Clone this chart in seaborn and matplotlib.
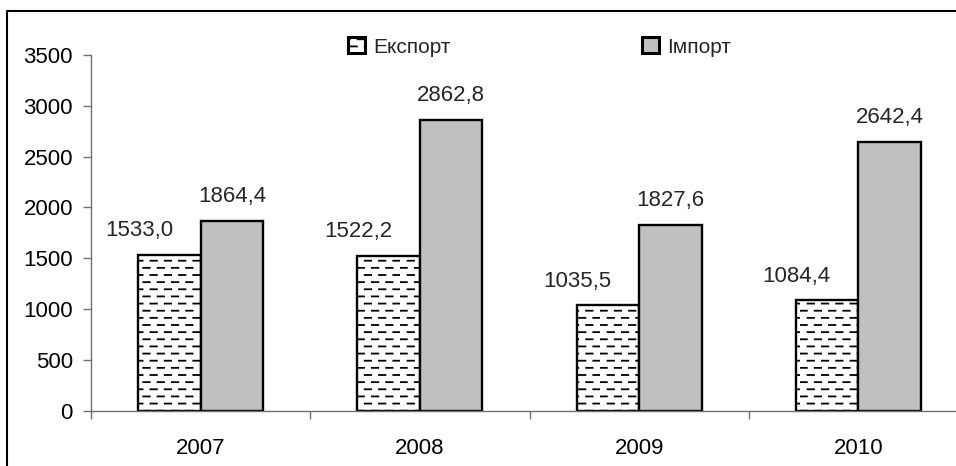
import numpy as np
import pandas as pd
import matplotlib
matplotlib.use("Agg")
import matplotlib.pyplot as plt
from matplotlib import hatch as mhatch
from matplotlib.path import Path
from matplotlib.patches import Patch
from matplotlib.lines import Line2D
import seaborn as sns

# дані
years = ["2007", "2008", "2009", "2010"]
export_vals = [1533.0, 1522.2, 1035.5, 1084.4]
import_vals = [1864.4, 2862.8, 1827.6, 2642.4]
series_names = ["Експорт", "Імпорт"]
y_ticks = [0, 500, 1000, 1500, 2000, 2500, 3000, 3500]


class DashHatch(mhatch.HatchPatternBase):
    """Штрихування короткими горизонтальними рисками в шаховому порядку"""

    def __init__(self, hatch, density):
        n = hatch.count('-')
        self.rows = 14 * n
        self.cols = 7
        self.num_vertices = self.rows * self.cols * 2 if n else 0

    def set_vertices_and_codes(self, vertices, codes):
        step = 1.0 / self.cols
        k = 0
        for r in range(self.rows):
            y = (r + 0.5) / self.rows
            shift = step / 2 if r % 2 else 0.0
            for c in range(self.cols):
                x0 = c * step + shift + 0.03 * step
                vertices[k] = (x0, y)
                vertices[k + 1] = (x0 + 0.45 * step, y)
                codes[k] = Path.MOVETO
                codes[k + 1] = Path.LINETO
                k += 2


# замінюємо стандартне горизонтальне штрихування на пунктирне
mhatch._hatch_types[0] = DashHatch

df = pd.DataFrame({
    "year": years * 2,
    "value": export_vals + import_vals,
    "kind": [series_names[0]] * len(years) + [series_names[1]] * len(years),
})

sns.set_style("ticks")
plt.rcParams['font.family'] = ['Liberation Sans', 'DejaVu Sans']
plt.rcParams['hatch.linewidth'] = 1.3

fig = plt.figure(figsize=(9.56, 4.66), dpi=100)
ax = fig.add_axes([91 / 956, 55.3 / 466, 877 / 956, 355.7 / 466])

colors = ["white", "#c0c0c0"]
sns.barplot(data=df, x="year", y="value", hue="kind", hue_order=series_names,
            palette=colors, edgecolor="black", linewidth=1.7, width=0.57,
            gap=0, saturation=1, legend=False, ax=ax)

for bar in ax.containers[0]:
    bar.set_hatch('-')

# підписи значень
for i, cont in enumerate(ax.containers):
    vals = export_vals if i == 0 else import_vals
    labels = [f"{v:.1f}".replace('.', ',') for v in vals]
    anns = ax.bar_label(cont, labels=labels, padding=10, fontsize=16)
    if i == 0:
        for a in anns:
            a.xyann = (-22, a.xyann[1])

ax.set_ylim(0, 3500)
ax.set_xlim(-0.5, len(years) - 0.5)
ax.set_yticks(y_ticks)
ax.set_xticks(np.arange(len(years) + 1) - 0.5, minor=True)
ax.set_xlabel("")
ax.set_ylabel("")

axis_col = "#707070"
sns.despine(ax=ax)
for s in ["left", "bottom"]:
    ax.spines[s].set_color(axis_col)
    ax.spines[s].set_linewidth(1.0)
ax.tick_params(axis='y', length=6, width=1, color=axis_col, pad=7,
               labelsize=16, labelcolor="black")
ax.tick_params(axis='x', which='major', length=0, pad=20,
               labelsize=16, labelcolor="black")
ax.tick_params(axis='x', which='minor', length=6, width=1, color=axis_col)

# легенда
handles = [Patch(facecolor=colors[0], edgecolor="black", hatch='-', linewidth=2.2),
           Patch(facecolor=colors[1], edgecolor="black", linewidth=2.2)]
fig.legend(handles, series_names, loc="center left",
           bbox_to_anchor=(348 / 956, 1 - 47 / 466), ncol=2, frameon=False,
           fontsize=15, handlelength=0.8, handleheight=0.8,
           handletextpad=0.4, columnspacing=9.2, borderpad=0,
           borderaxespad=0)

# рамка навколо діаграми (видно лише верхній і лівий край)
fx, fy = 7 / 956, 1 - 11 / 466
fig.lines.append(Line2D([fx, fx, 1.0], [0.0, fy, fy], transform=fig.transFigure,
                        color="black", linewidth=1.5))

fig.savefig("out.png", dpi=100)
